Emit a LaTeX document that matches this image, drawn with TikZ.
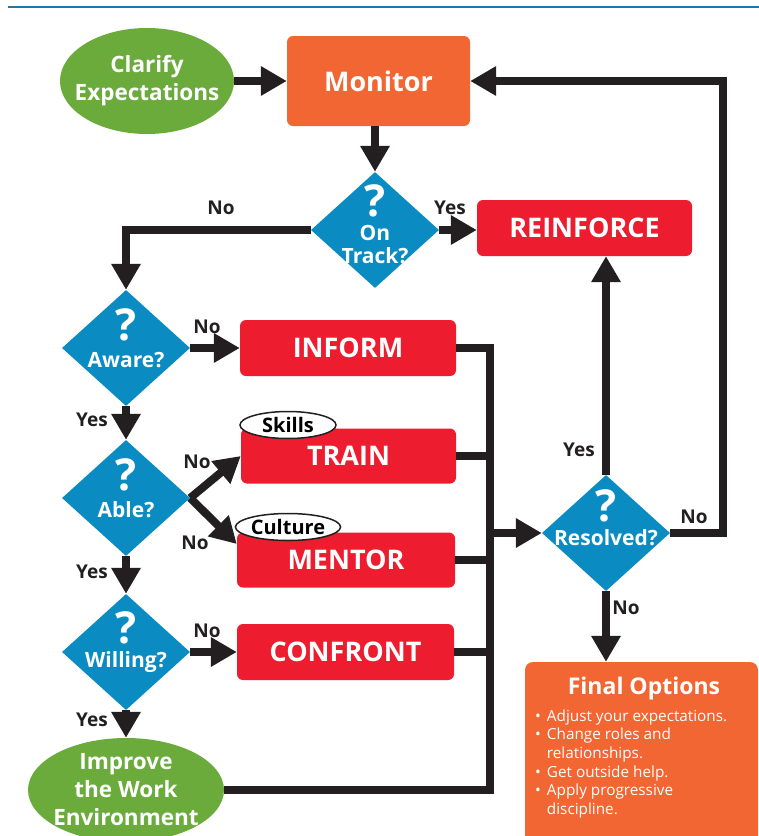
\documentclass[tikz,border=0pt]{standalone}
\usepackage{fontspec}
\setmainfont{Open Sans}
\usetikzlibrary{shapes.geometric,arrows.meta,positioning}

\definecolor{leafgreen}{HTML}{6AAB3B}
\definecolor{flame}{HTML}{F26634}
\definecolor{alarm}{HTML}{ED1C2E}
\definecolor{ocean}{HTML}{0A8CC2}
\definecolor{ink}{HTML}{231F20}
\definecolor{rulecol}{HTML}{1E78A8}

\begin{document}
\begin{tikzpicture}[x=1pt,y=-1pt,line join=miter,
    oval/.style={ellipse,fill=leafgreen,inner sep=0pt},
    otxt/.style={text=white,align=center,inner sep=0pt,font=\fontsize{22.5}{28}\selectfont\bfseries},
    act/.style={rectangle,rounded corners=6pt,fill=alarm,text=white,inner sep=0pt,
      font=\fontsize{27}{30}\selectfont\bfseries},
    ask/.style={diamond,fill=ocean,inner sep=0pt,minimum width=128pt,minimum height=116pt},
    qm/.style={text=white,inner sep=0pt,font=\fontsize{44}{44}\selectfont\bfseries},
    qtxt/.style={text=white,align=center,inner sep=0pt,font=\fontsize{21}{23}\selectfont\bfseries},
    tag/.style={ellipse,draw=ink,line width=1.5pt,fill=white,inner sep=0pt,
      minimum width=96pt,minimum height=27pt,font=\fontsize{20}{20}\selectfont\bfseries},
    lbl/.style={text=ink,inner sep=0pt,font=\fontsize{19}{19}\selectfont\bfseries},
    wire/.style={draw=ink,line width=8pt},
    flow/.style={wire,-{Triangle[length=26pt,width=28pt]}},
  ]
  \useasboundingbox (0,0) rectangle (759,836);
  \draw[rulecol,line width=1.2pt] (8,7) -- (759,7);

  % start, monitor, first check
  \node[oval,minimum width=174pt,minimum height=106pt] (clar) at (147,81) {};
  \node[otxt] (clart) at (clar) {Clarify\\Expectations};
  \node[act,fill=flame,minimum width=183pt,minimum height=90pt] (mon) at (378.5,81) {Monitor};
  \node[ask] (trk) at (375,230) {};
  \node[qm] (trkq) at (375,201) {?};
  \node[qtxt] (trkt) at (375,245) {On\\Track?};
  \node[act,minimum width=215pt,minimum height=56pt] (rein) at (584.5,228) {REINFORCE};

  % left column of checks
  \node[ask] (aw) at (126,348) {};
  \node[qm] (awq) at (126,325) {?};
  \node[qtxt] (awt) at (126,360) {Aware?};
  \node[ask] (ab) at (126,498) {};
  \node[qm] (abq) at (126,475) {?};
  \node[qtxt] (abt) at (126,510) {Able?};
  \node[ask] (wi) at (126,652) {};
  \node[qm] (wiq) at (126,628) {?};
  \node[qtxt] (wit) at (126,662) {Willing?};
  \node[oval,minimum width=196pt,minimum height=104pt] (imp) at (126,790) {};
  \node[otxt] (impt) at (126,790) {Improve\\the Work\\Environment};

  % actions
  \node[act,minimum width=216pt,minimum height=56pt] (inf) at (348,348) {INFORM};
  \node[act,minimum width=215pt,minimum height=55pt] (trn) at (348.5,456) {TRAIN};
  \node[act,minimum width=218pt,minimum height=55pt] (men) at (346,560) {MENTOR};
  \node[act,minimum width=217pt,minimum height=56pt] (con) at (345.5,652) {CONFRONT};
  \node[tag] (skl) at (288,425) {Skills};
  \node[tag] (cul) at (288,527) {Culture};

  % result check and last resort
  \node[ask] (res) at (606,533) {};
  \node[qm] (resq) at (606,506) {?};
  \node[qtxt] (rest) at (606,538) {Resolved?};
  \node[act,fill=flame,rounded corners=8pt,minimum width=233pt,minimum height=190pt] (fin) at (641.5,757) {};
  \node[text=white,inner sep=0pt,font=\fontsize{23}{23}\selectfont\bfseries] (fint) at (644,689) {Final Options};
  \node[text=white,inner sep=0pt,anchor=north west,font=\fontsize{15.3}{18.6}\selectfont] (finl) at (535,708)
    {\begin{tabular}{@{}l@{\hspace{6pt}}l@{}}
      \textbullet & Adjust your expectations.\\
      \textbullet & Change roles and\\
                  & relationships.\\
      \textbullet & Get outside help.\\
      \textbullet & Apply progressive\\
                  & discipline.
    \end{tabular}};

  \coordinate (bus) at (490,533);
  \coordinate (loop) at (723,533);

  % connectors
  \draw[flow] (clar) -- (mon);
  \draw[flow] (mon.south -| trk) -- (trk.north);
  \draw[flow] (trk.east) -- (trk.east -| rein.west);
  \draw[flow] (trk.west) -| (aw.north);
  \draw[flow] (aw.east) -- (aw.east -| inf.west);
  \draw[flow] (aw.south) -- (ab.north);
  \draw[flow] (ab.east) -- (trn.west);
  \draw[flow] (ab.east) -- ([yshift=16pt]men.west);
  \draw[flow] (ab.south) -- (wi.north);
  \draw[flow] (wi.east) -- (wi.east -| con.west);
  \draw[flow] (wi.south) -- (imp.north);
  \draw[wire] (inf.east) -| (bus);
  \draw[wire] (imp.east) -| (bus);
  \draw[wire] (trn.east) -- (trn.east -| bus);
  \draw[wire] (men.east) -- (men.east -| bus);
  \draw[wire] (con.east) -- (con.east -| bus);
  \draw[flow] (bus) -- (res.west);
  \draw[flow] (res.north) -- (res.north |- rein.south);
  \draw[flow] (res.east) -- (loop) |- (mon.east);
  \draw[flow] (res.south) -- (res.south |- fin.north);

  % branch labels
  \node[lbl] (l1) at (221,208) {No};
  \node[lbl] (l2) at (450,208) {Yes};
  \node[lbl] (l3) at (207,327) {No};
  \node[lbl] (l4) at (92,420) {Yes};
  \node[lbl] (l5) at (197,462) {No};
  \node[lbl] (l6) at (195,543) {No};
  \node[lbl] (l7) at (92,572) {Yes};
  \node[lbl] (l8) at (207,631) {No};
  \node[lbl] (l9) at (92,720) {Yes};
  \node[lbl] (l10) at (579,450) {Yes};
  \node[lbl] (l11) at (694,517) {No};
  \node[lbl] (l12) at (626,608) {No};
\end{tikzpicture}
\end{document}
